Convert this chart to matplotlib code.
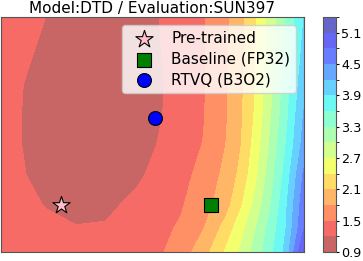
import numpy as np
import matplotlib
matplotlib.use("Agg")
import matplotlib.pyplot as plt
from matplotlib.colors import ListedColormap, BoundaryNorm

# grid coordinates (landscape plane; pre-trained at (0,0), baseline at (1,0))
x_coords = [-0.4, -0.25, -0.1, 0.1, 0.3, 0.5, 0.65, 0.8, 0.95, 1.1, 1.2, 1.3, 1.4, 1.5, 1.62]
y_coords = [-0.313, -0.15, 0.0, 0.2, 0.4, 0.6, 0.8, 1.0, 1.25]

# loss values, rows from bottom (y=-0.313) to top (y=1.25)
loss_rows = [
    [1.46, 1.39, 1.33, 1.29, 1.30, 1.37, 1.45, 1.65, 1.97, 2.44, 2.75, 3.125, 3.52, 3.99, 5.15],
    [1.40, 1.33, 1.26, 1.21, 1.22, 1.355, 1.43, 1.53, 1.78, 2.21, 2.58, 2.985, 3.42, 3.89, 4.78],
    [1.33, 1.26, 1.19, 1.13, 1.15, 1.257, 1.364, 1.47, 1.674, 1.985, 2.36, 2.80, 3.29, 3.84, 4.69],
    [1.28, 1.21, 1.13, 1.06, 1.06, 1.15, 1.276, 1.41, 1.59, 1.88, 2.18, 2.63, 3.17, 3.71, 4.55],
    [1.26, 1.195, 1.11, 1.03, 1.02, 1.09, 1.21, 1.36, 1.51, 1.80, 2.09, 2.53, 3.06, 3.59, 4.32],
    [1.26, 1.195, 1.11, 1.03, 1.01, 1.07, 1.17, 1.325, 1.48, 1.767, 2.05, 2.45, 2.97, 3.50, 4.22],
    [1.27, 1.20, 1.12, 1.05, 1.03, 1.08, 1.16, 1.31, 1.476, 1.757, 2.036, 2.43, 2.92, 3.44, 4.11],
    [1.29, 1.23, 1.16, 1.10, 1.07, 1.11, 1.18, 1.32, 1.476, 1.747, 2.02, 2.40, 2.87, 3.38, 4.00],
    [1.33, 1.26, 1.20, 1.14, 1.12, 1.15, 1.195, 1.33, 1.47, 1.735, 2.00, 2.37, 2.82, 3.30, 3.90],
]

levels = [0.9, 1.2, 1.5, 1.8, 2.1, 2.4, 2.7, 3.0, 3.3, 3.6, 3.9, 4.2, 4.5, 4.8, 5.1, 5.4]
cbar_ticks = [0.9, 1.5, 2.1, 2.7, 3.3, 3.9, 4.5, 5.1]

points_labels = ["Pre-trained", "Baseline (FP32)", "RTVQ (B3O2)"]
points_x = [0.0, 1.0, 0.63]
points_y = [0.0, 0.0, 0.58]

# jet_r band colours at band midpoints, blended with white as with alpha=0.6
alpha = 0.6
base = plt.get_cmap("jet_r")
lo, hi = levels[0], levels[-1]
band_cols = []
for a, b in zip(levels[:-1], levels[1:]):
    r, g, bl, _ = base(((a + b) / 2 - lo) / (hi - lo))
    band_cols.append((1 - alpha + alpha * r, 1 - alpha + alpha * g, 1 - alpha + alpha * bl))
cmap = ListedColormap(band_cols)
norm = BoundaryNorm(levels, cmap.N)

fig = plt.figure(figsize=(3.63, 2.61), dpi=100)
ax = fig.add_axes([0.002, 0.034, 0.835, 0.901])
cax = fig.add_axes([0.890, 0.034, 0.035, 0.901])

X, Y = np.meshgrid(x_coords, y_coords)
Z = np.array(loss_rows)
cs = ax.contourf(X, Y, Z, levels=levels, cmap=cmap, norm=norm)
ax.set_xlim(x_coords[0], x_coords[-1])
ax.set_ylim(y_coords[0], y_coords[-1])

ax.scatter(points_x[0], points_y[0], marker="*", s=170, c="pink",
           edgecolors="black", linewidths=0.8, label=points_labels[0], zorder=5)
ax.scatter(points_x[1], points_y[1], marker="s", s=100, c="green",
           edgecolors="black", linewidths=0.8, label=points_labels[1], zorder=5)
ax.scatter(points_x[2], points_y[2], marker="o", s=100, c="blue",
           edgecolors="black", linewidths=0.8, label=points_labels[2], zorder=5)

ax.set_xticks([])
ax.set_yticks([])
for side in ["top", "right", "left", "bottom"]:
    ax.spines[side].set_color("#555555")
    ax.spines[side].set_linewidth(0.8)
ax.set_title("Model:DTD / Evaluation:SUN397", fontsize=11, pad=3)
ax.legend(loc="upper right", fontsize=11, borderpad=0.4, handletextpad=0.8,
          labelspacing=0.38, borderaxespad=0.5)

cb = fig.colorbar(cs, cax=cax, ticks=cbar_ticks)
cb.outline.set_edgecolor("#555555")
cb.outline.set_linewidth(0.8)
cb.ax.tick_params(labelsize=9.2, length=2.5, pad=1.5)
cb.ax.set_yticklabels([f"{t:.1f}" for t in cbar_ticks])

fig.savefig("out.png", dpi=100)
